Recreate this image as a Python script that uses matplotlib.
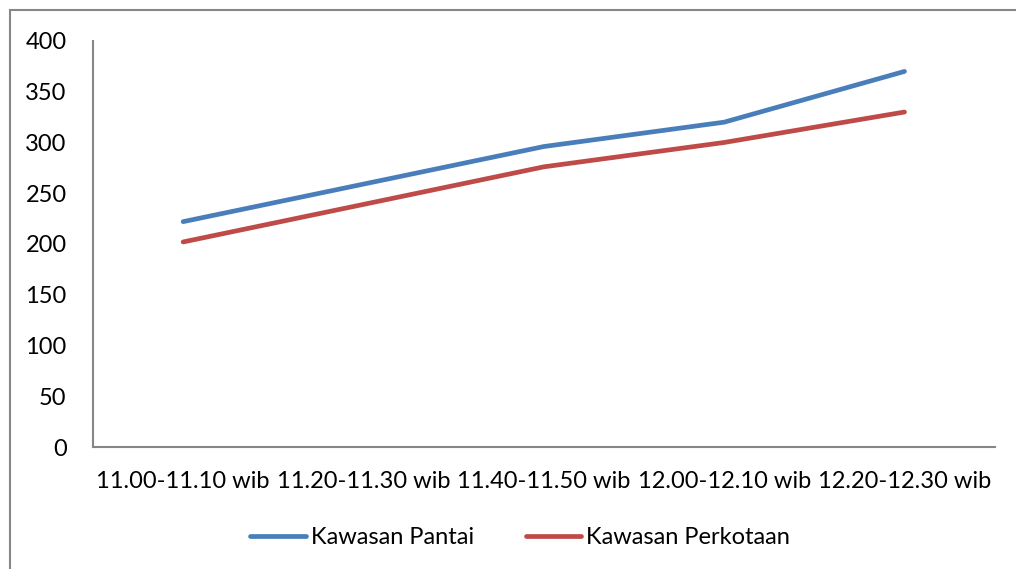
import matplotlib.pyplot as plt
from matplotlib.patches import Rectangle

# -----------------------------
# DATA
# -----------------------------

categories = ["11.00-11.10 wib", "11.20-11.30 wib", "11.40-11.50 wib",
              "12.00-12.10 wib", "12.20-12.30 wib"]
pantai = [222, 259, 296, 320, 370]
perkotaan = [202, 239, 276, 300, 330]
yticks = [0, 50, 100, 150, 200, 250, 300, 350, 400]

plt.rcParams["font.family"] = ["Lato", "DejaVu Sans"]

fig = plt.figure(figsize=(10.16, 5.69), dpi=100)
ax = fig.add_axes([0.0915, 0.2144, 0.8875, 0.7136])

x = range(len(categories))
ax.plot(x, pantai, color="#4A7EBB", linewidth=3.4, solid_capstyle="round",
        label="Kawasan Pantai")
ax.plot(x, perkotaan, color="#BE4B48", linewidth=3.4, solid_capstyle="round",
        label="Kawasan Perkotaan")

ax.set_xlim(-0.5, len(categories) - 0.5)
ax.set_ylim(0, 400)
ax.set_yticks(yticks)
ax.set_xticks(list(x))
ax.set_xticklabels(categories)
ax.tick_params(axis="both", length=0, labelsize=17)
ax.tick_params(axis="y", pad=19)
ax.tick_params(axis="x", pad=17)

for side in ["top", "right"]:
    ax.spines[side].set_visible(False)
for side in ["left", "bottom"]:
    ax.spines[side].set_color("#868686")
    ax.spines[side].set_linewidth(1.5)

handles, labels = ax.get_legend_handles_labels()
fig.legend(handles, labels, loc="center", bbox_to_anchor=(520 / 1016, 1 - 538 / 569),
           ncol=2, frameon=False, fontsize=17, handlelength=2.35,
           handletextpad=0.2, columnspacing=2.2)

# outer chart border
fig.patches.append(Rectangle((10 / 1016, -0.1), 1.2, (569 - 10) / 569 + 0.1,
                             transform=fig.transFigure, fill=False,
                             edgecolor="#868686", linewidth=1.5))

fig.savefig("out.png", dpi=100)
